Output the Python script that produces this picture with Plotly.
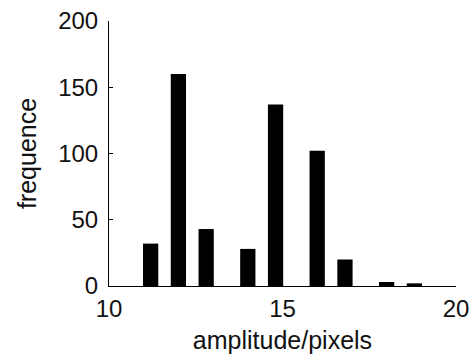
import plotly.graph_objects as go

# Histogram bin centers (amplitude/pixels) and counts
bin_centers = [11.2, 12.0, 12.8, 14.0, 14.8, 16.0, 16.8, 18.0, 18.8]
counts = [32, 160, 43, 28, 137, 102, 20, 3, 2]
x_ticks = [10, 15, 20]
y_ticks = [0, 50, 100, 150, 200]

FONT = "Liberation Sans, Arial, sans-serif"

fig = go.Figure(
    go.Bar(
        x=bin_centers,
        y=counts,
        width=0.44,
        marker=dict(color="black", line=dict(width=0)),
        showlegend=False,
    )
)

axis_common = dict(
    showline=True,
    linecolor="black",
    linewidth=1,
    ticks="inside",
    ticklen=4,
    tickwidth=1,
    tickcolor="black",
    showgrid=False,
    zeroline=False,
    automargin=False,
    tickfont=dict(family=FONT, size=24, color="#111"),
)

fig.update_layout(
    width=473,
    height=358,
    margin=dict(l=109, r=17, t=21, b=72, pad=0),
    paper_bgcolor="white",
    plot_bgcolor="white",
    xaxis=dict(
        range=[10, 20],
        tickvals=x_ticks,
        ticktext=[str(v) for v in x_ticks],
        title=dict(text="amplitude/pixels", font=dict(family=FONT, size=25, color="#111"), standoff=10),
        ticklabelstandoff=1,
        **axis_common,
    ),
    yaxis=dict(
        range=[0, 200],
        tickvals=y_ticks,
        ticktext=[str(v) for v in y_ticks],
        title=dict(text="frequence", font=dict(family=FONT, size=25, color="#111"), standoff=14),
        ticklabelstandoff=5,
        **axis_common,
    ),
)

fig.write_html("out.html")
